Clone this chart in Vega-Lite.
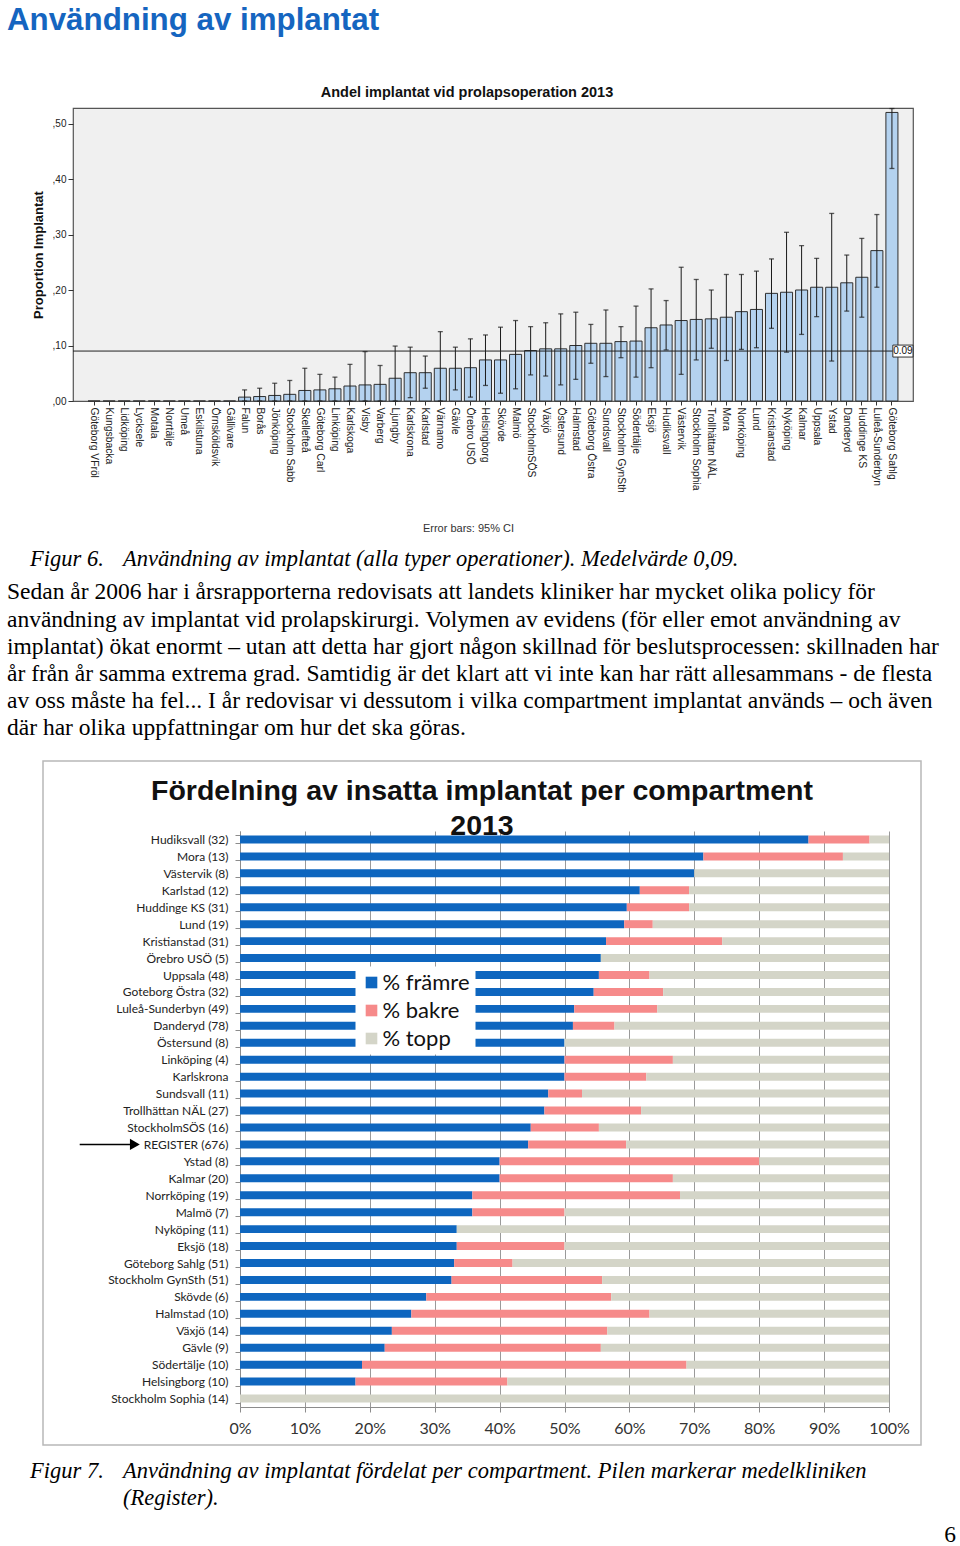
{
 "$schema": "https://vega.github.io/schema/vega-lite/v6.json",
 "background": "white",
 "padding": 0,
 "autosize": {"type": "pad"},
 "spacing": 0,
 "bounds": "flush",
 "config": {"view": {"stroke": null}, "font": "Liberation Sans"},
 "vconcat": [
  {"width": 960, "height": 4.5, "data": {"values": []}, "mark": "point",
   "title": {"text": "Användning av implantat", "orient": "bottom", "anchor": "start", "frame": "group", "offset": 0, "dx": 7, "baseline": "top", "font": "Liberation Sans", "fontSize": 31.3, "fontWeight": "bold", "color": "#1565c0"}},
  {"width": 960, "height": 102.5, "data": {"values": []}, "mark": "point"},
  {"hconcat": [
    {"width": 73, "height": 293, "data": {"values": []}, "mark": "point"},
    {
     "width": 840, "height": 293,
     "view": {"fill": "#f0f0f0", "stroke": "#555555", "strokeWidth": 1.2},
     "title": {"text": "Andel implantat vid prolapsoperation 2013", "anchor": "middle", "frame": "group", "dx": -26, "offset": -4, "baseline": "alphabetic", "font": "Liberation Sans", "fontSize": 14.5, "fontWeight": "bold", "color": "#111111"},
     "resolve": {"scale": {"x": "independent"}},
     "layer": [
      {
       "data": {"values": [
        {"c": "Göteborg VFröl", "p": 0, "lo": 0, "hi": 0},
        {"c": "Kungsbacka", "p": 0, "lo": 0, "hi": 0},
        {"c": "Lidköping", "p": 0, "lo": 0, "hi": 0},
        {"c": "Lycksele", "p": 0, "lo": 0, "hi": 0},
        {"c": "Motala", "p": 0, "lo": 0, "hi": 0},
        {"c": "Norrtälje", "p": 0, "lo": 0, "hi": 0},
        {"c": "Umeå", "p": 0, "lo": 0, "hi": 0},
        {"c": "Eskilstuna", "p": 0, "lo": 0, "hi": 0},
        {"c": "Örnsköldsvik", "p": 0, "lo": 0, "hi": 0},
        {"c": "Gällivare", "p": 0, "lo": 0, "hi": 0},
        {"c": "Falun", "p": 0.007, "lo": 0, "hi": 0.020},
        {"c": "Borås", "p": 0.008, "lo": 0, "hi": 0.023},
        {"c": "Jönköping", "p": 0.010, "lo": 0, "hi": 0.032},
        {"c": "Stockholm Sabb", "p": 0.012, "lo": 0, "hi": 0.037},
        {"c": "Skellefteå", "p": 0.019, "lo": 0, "hi": 0.059},
        {"c": "Göteborg Carl", "p": 0.020, "lo": 0, "hi": 0.048},
        {"c": "Linköping", "p": 0.022, "lo": 0, "hi": 0.043},
        {"c": "Karlskoga", "p": 0.027, "lo": 0, "hi": 0.066},
        {"c": "Visby", "p": 0.029, "lo": 0, "hi": 0.089},
        {"c": "Varberg", "p": 0.030, "lo": 0, "hi": 0.064},
        {"c": "Ljungby", "p": 0.041, "lo": 0, "hi": 0.099},
        {"c": "Karlskrona", "p": 0.051, "lo": 0.006, "hi": 0.097},
        {"c": "Karlstad", "p": 0.051, "lo": 0.023, "hi": 0.081},
        {"c": "Värnamo", "p": 0.059, "lo": 0, "hi": 0.125},
        {"c": "Gävle", "p": 0.059, "lo": 0.020, "hi": 0.097},
        {"c": "Örebro USÖ", "p": 0.060, "lo": 0.007, "hi": 0.112},
        {"c": "Helsingborg", "p": 0.074, "lo": 0.028, "hi": 0.119},
        {"c": "Skövde", "p": 0.074, "lo": 0.014, "hi": 0.133},
        {"c": "Malmö", "p": 0.084, "lo": 0.022, "hi": 0.145},
        {"c": "StockholmSÖS", "p": 0.091, "lo": 0.047, "hi": 0.134},
        {"c": "Växjö", "p": 0.094, "lo": 0.045, "hi": 0.141},
        {"c": "Östersund", "p": 0.094, "lo": 0.029, "hi": 0.157},
        {"c": "Halmstad", "p": 0.100, "lo": 0.039, "hi": 0.160},
        {"c": "Göteborg Östra", "p": 0.104, "lo": 0.068, "hi": 0.138},
        {"c": "Sundsvall", "p": 0.104, "lo": 0.044, "hi": 0.164},
        {"c": "Stockholm GynSth", "p": 0.107, "lo": 0.078, "hi": 0.134},
        {"c": "Södertälje", "p": 0.108, "lo": 0.043, "hi": 0.171},
        {"c": "Eksjö", "p": 0.132, "lo": 0.060, "hi": 0.202},
        {"c": "Hudiksvall", "p": 0.137, "lo": 0.092, "hi": 0.181},
        {"c": "Västervik", "p": 0.145, "lo": 0.048, "hi": 0.241},
        {"c": "Stockholm Sophia", "p": 0.147, "lo": 0.074, "hi": 0.219},
        {"c": "Trollhättan NÄL", "p": 0.148, "lo": 0.095, "hi": 0.200},
        {"c": "Mora", "p": 0.151, "lo": 0.073, "hi": 0.228},
        {"c": "Norrköping", "p": 0.161, "lo": 0.093, "hi": 0.228},
        {"c": "Lund", "p": 0.165, "lo": 0.096, "hi": 0.234},
        {"c": "Kristianstad", "p": 0.194, "lo": 0.131, "hi": 0.256},
        {"c": "Nyköping", "p": 0.196, "lo": 0.088, "hi": 0.304},
        {"c": "Kalmar", "p": 0.200, "lo": 0.120, "hi": 0.280},
        {"c": "Uppsala", "p": 0.205, "lo": 0.152, "hi": 0.257},
        {"c": "Ystad", "p": 0.205, "lo": 0.072, "hi": 0.338},
        {"c": "Danderyd", "p": 0.213, "lo": 0.162, "hi": 0.263},
        {"c": "Huddinge KS", "p": 0.223, "lo": 0.151, "hi": 0.293},
        {"c": "Luleå-Sunderbyn", "p": 0.271, "lo": 0.205, "hi": 0.336},
        {"c": "Göteborg Sahlg", "p": 0.520, "lo": 0.419, "hi": 0.527}
       ]},
       "layer": [
        {"mark": {"type": "bar", "fill": "#b4d2ef", "stroke": "#2e2e2e", "strokeWidth": 1},
         "encoding": {
          "x": {"field": "c", "type": "nominal", "sort": null, "scale": {"paddingInner": 0.2, "paddingOuter": 3},
                "axis": {"title": "Error bars: 95% CI", "titleX": 395, "titleY": 127, "titleAlign": "center", "titleBaseline": "middle", "titleFont": "Liberation Sans", "titleFontSize": 11, "titleFontWeight": "normal", "titleColor": "#333333", "labelAngle": 90, "labelFont": "Liberation Sans", "labelFontSize": 10.3, "labelColor": "#222222", "labelPadding": 2, "labelOverlap": false, "labelLimit": 200, "tickSize": 4, "tickColor": "#333333", "domain": false, "grid": false}},
          "y": {"field": "p", "type": "quantitative", "scale": {"domain": [0, 0.528], "nice": false},
                "axis": {"title": "Proportion Implantat", "titleFont": "Liberation Sans", "titleFontSize": 13, "titleFontWeight": "bold", "titleColor": "#111111", "titlePadding": 7, "values": [0, 0.1, 0.2, 0.3, 0.4, 0.5], "labelExpr": "',' + substring(format(datum.value, '.2f'), 2)", "labelFont": "Liberation Sans", "labelFontSize": 10, "labelColor": "#222222", "labelPadding": 2, "labelFlush": false, "tickSize": 5, "tickColor": "#333333", "domain": false, "grid": false}}
         }},
        {"transform": [{"filter": "datum.p > 0"}],
         "mark": {"type": "rule", "color": "#1a1a1a", "strokeWidth": 1},
         "encoding": {"x": {"field": "c", "type": "nominal", "sort": null}, "y": {"field": "lo", "type": "quantitative"}, "y2": {"field": "hi"}}},
        {"transform": [{"filter": "datum.p > 0"}],
         "mark": {"type": "tick", "color": "#1a1a1a", "size": 5, "thickness": 1.3},
         "encoding": {"x": {"field": "c", "type": "nominal", "sort": null}, "y": {"field": "hi", "type": "quantitative"}}},
        {"transform": [{"filter": "datum.p > 0"}],
         "mark": {"type": "tick", "color": "#1a1a1a", "size": 5, "thickness": 1.3},
         "encoding": {"x": {"field": "c", "type": "nominal", "sort": null}, "y": {"field": "lo", "type": "quantitative"}}}
       ]
      },
      {
       "data": {"values": [{"lab": "0.09"}]},
       "layer": [
        {"mark": {"type": "rule", "color": "#222222", "strokeWidth": 1},
         "encoding": {"x": {"datum": 0, "type": "quantitative", "scale": {"domain": [0, 1], "nice": false}, "axis": null}, "x2": {"datum": 0.976}, "y": {"datum": 0.09, "type": "quantitative"}}},
        {"mark": {"type": "rect", "fill": "white", "stroke": "#333333", "strokeWidth": 1},
         "encoding": {"x": {"datum": 0.976, "type": "quantitative", "axis": null}, "x2": {"datum": 1.0}, "y": {"datum": 0.0792, "type": "quantitative"}, "y2": {"datum": 0.1008}}},
        {"mark": {"type": "text", "fontSize": 10, "font": "Liberation Sans", "color": "#111111", "align": "center", "baseline": "middle"},
         "encoding": {"x": {"datum": 0.988, "type": "quantitative", "axis": null}, "y": {"datum": 0.09, "type": "quantitative"}, "text": {"field": "lab"}}}
       ]
      }
     ]
    }
   ], "spacing": 0, "bounds": "flush"},
  {"width": 960, "height": 293, "data": {"values": []}, "mark": "point"},
  {"hconcat": [
    {"width": 123, "height": 147.2, "data": {"values": []}, "mark": "point",
     "title": {"text": "Figur 6.", "orient": "bottom", "anchor": "start", "frame": "group", "offset": 0, "dx": 30, "baseline": "top", "font": "Liberation Serif", "fontSize": 22.5, "fontStyle": "italic", "fontWeight": "normal", "color": "#000000"}},
    {"width": 837, "height": 147.2, "data": {"values": []}, "mark": "point",
     "title": {"text": "Användning av implantat (alla typer operationer). Medelvärde 0,09.", "orient": "bottom", "anchor": "start", "frame": "group", "offset": 0, "dx": 0, "baseline": "top", "font": "Liberation Serif", "fontSize": 22.5, "fontStyle": "italic", "fontWeight": "normal", "color": "#000000"}}
   ], "spacing": 0, "bounds": "flush"},
  {"width": 960, "height": 179.4, "data": {"values": []}, "mark": "point",
   "title": {"text": [
     "Sedan år 2006 har i årsrapporterna redovisats att landets kliniker har mycket olika policy för",
     "användning av implantat vid prolapskirurgi. Volymen av evidens (för eller emot användning av",
     "implantat) ökat enormt – utan att detta har gjort någon skillnad för beslutsprocessen: skillnaden har",
     "år från år samma extrema grad. Samtidig är det klart att vi inte kan har rätt allesammans - de flesta",
     "av oss måste ha fel... I år redovisar vi dessutom i vilka compartment implantat används – och även",
     "där har olika uppfattningar om hur det ska göras."
    ], "orient": "bottom", "anchor": "start", "frame": "group", "offset": 0, "dx": 7, "baseline": "top", "lineHeight": 27.2, "font": "Liberation Serif", "fontSize": 23.5, "fontWeight": "normal", "color": "#000000"}},
  {"width": 960, "height": 179.6, "data": {"values": []}, "mark": "point"},
  {"hconcat": [
    {"width": 43, "height": 684, "data": {"values": []}, "mark": "point"},
    {"width": 878, "height": 684, "data": {"values": []}, "mark": "point", "view": {"stroke": "#b8b8b8", "strokeWidth": 1.5}}
   ], "spacing": 0, "bounds": "flush"},
  {"width": 960, "height": 70, "data": {"values": []}, "mark": "point"},
  {"hconcat": [
    {"width": 240, "height": 576, "data": {"values": []}, "mark": "point"},
    {
     "width": 649, "height": 576,
     "title": {"text": ["Fördelning av insatta implantat per compartment", "2013"], "anchor": "middle", "frame": "group", "dx": -82.5, "offset": -38, "baseline": "alphabetic", "lineHeight": 35, "font": "Liberation Sans", "fontSize": 28.5, "fontWeight": "bold", "color": "#111111"},
     "data": {"values": [
      {"c": "Hudiksvall (32)", "f": 87.6, "fb": 97.0},
      {"c": "Mora (13)", "f": 71.4, "fb": 92.9},
      {"c": "Västervik (8)", "f": 70.0, "fb": 70.0},
      {"c": "Karlstad (12)", "f": 61.6, "fb": 69.2},
      {"c": "Huddinge KS (31)", "f": 59.6, "fb": 69.2},
      {"c": "Lund (19)", "f": 59.2, "fb": 63.6},
      {"c": "Kristianstad (31)", "f": 56.4, "fb": 74.3},
      {"c": "Örebro USÖ (5)", "f": 55.6, "fb": 55.6},
      {"c": "Uppsala (48)", "f": 55.3, "fb": 63.1},
      {"c": "Goteborg Östra (32)", "f": 54.5, "fb": 65.2},
      {"c": "Luleå-Sunderbyn (49)", "f": 51.5, "fb": 64.3},
      {"c": "Danderyd (78)", "f": 51.3, "fb": 57.7},
      {"c": "Östersund (8)", "f": 50.0, "fb": 50.0},
      {"c": "Linköping (4)", "f": 50.0, "fb": 66.7},
      {"c": "Karlskrona", "f": 50.0, "fb": 62.6},
      {"c": "Sundsvall (11)", "f": 47.5, "fb": 52.7},
      {"c": "Trollhättan NÄL (27)", "f": 46.9, "fb": 61.8},
      {"c": "StockholmSÖS (16)", "f": 44.8, "fb": 55.3},
      {"c": "REGISTER (676)", "f": 44.4, "fb": 59.5},
      {"c": "Ystad (8)", "f": 40.0, "fb": 80.0},
      {"c": "Kalmar (20)", "f": 40.0, "fb": 66.7},
      {"c": "Norrköping (19)", "f": 35.8, "fb": 67.8},
      {"c": "Malmö (7)", "f": 35.8, "fb": 50.0},
      {"c": "Nyköping (11)", "f": 33.4, "fb": 33.4},
      {"c": "Eksjö (18)", "f": 33.4, "fb": 50.0},
      {"c": "Göteborg Sahlg (51)", "f": 33.0, "fb": 42.0},
      {"c": "Stockholm GynSth (51)", "f": 32.6, "fb": 55.8},
      {"c": "Skövde (6)", "f": 28.7, "fb": 57.2},
      {"c": "Halmstad (10)", "f": 26.4, "fb": 63.1},
      {"c": "Växjö (14)", "f": 23.4, "fb": 56.6},
      {"c": "Gävle (9)", "f": 22.3, "fb": 55.6},
      {"c": "Södertälje (10)", "f": 18.8, "fb": 68.8},
      {"c": "Helsingborg (10)", "f": 17.8, "fb": 41.2},
      {"c": "Stockholm Sophia (14)", "f": 0, "fb": 0}
     ]},
     "encoding": {
      "y": {"field": "c", "type": "nominal", "sort": null, "scale": {"paddingInner": 0.53, "paddingOuter": 0.265},
            "axis": {"title": null, "labelFont": "Lato", "labelFontSize": 12, "labelColor": "#222222", "labelPadding": 7, "labelLimit": 0, "tickBand": "extent", "tickSize": 5, "tickColor": "#8c8c8c", "domainColor": "#8c8c8c", "grid": false}}
     },
     "layer": [
      {"mark": {"type": "bar"},
       "encoding": {
        "x": {"field": "f", "type": "quantitative", "scale": {"domain": [0, 100], "nice": false},
              "axis": {"title": null, "values": [0, 10, 20, 30, 40, 50, 60, 70, 80, 90, 100], "labelExpr": "datum.value + '%'", "labelFont": "Lato", "labelFontSize": 16, "labelColor": "#333333", "labelPadding": 8, "labelFlush": false, "grid": true, "gridColor": "#9a9a9a", "tickSize": 5, "tickColor": "#8c8c8c", "domainColor": "#8c8c8c"}},
        "color": {"datum": "% främre", "scale": {"domain": ["% främre", "% bakre", "% topp"], "range": ["#0e66bf", "#f68a8a", "#d4d5c8"]},
                  "legend": {"title": null, "orient": "none", "legendX": 355.5, "legendY": 966.5, "direction": "vertical", "fillColor": "white", "padding": 5, "symbolType": "square", "symbolSize": 135, "symbolStrokeWidth": 0, "labelFont": "Lato", "labelFontSize": 22, "labelColor": "#111111", "rowPadding": 6, "labelOffset": 0}}
       }},
      {"mark": {"type": "bar"},
       "encoding": {"x": {"field": "f", "type": "quantitative"}, "x2": {"field": "fb"}, "color": {"datum": "% bakre"}}},
      {"mark": {"type": "bar"},
       "encoding": {"x": {"field": "fb", "type": "quantitative"}, "x2": {"datum": 100}, "color": {"datum": "% topp"}}},
      {"transform": [{"filter": "datum.c == 'REGISTER (676)'"}],
       "mark": {"type": "rule", "color": "black", "strokeWidth": 1.5},
       "encoding": {"x": {"datum": -24.7}, "x2": {"datum": -16.5}}},
      {"transform": [{"filter": "datum.c == 'REGISTER (676)'"}],
       "mark": {"type": "point", "shape": "triangle-right", "filled": true, "color": "black", "size": 130, "opacity": 1},
       "encoding": {"x": {"datum": -16.2}}}
     ]
    }
   ], "spacing": 0, "bounds": "flush"},
  {"width": 960, "height": 577, "data": {"values": []}, "mark": "point"},
  {"hconcat": [
    {"width": 123, "height": 52.2, "data": {"values": []}, "mark": "point",
     "title": {"text": "Figur 7.", "orient": "bottom", "anchor": "start", "frame": "group", "offset": 0, "dx": 30, "baseline": "top", "font": "Liberation Serif", "fontSize": 22.5, "fontStyle": "italic", "fontWeight": "normal", "color": "#000000"}},
    {"width": 837, "height": 52.2, "data": {"values": []}, "mark": "point",
     "title": {"text": ["Användning av implantat fördelat per compartment. Pilen markerar medelkliniken", "(Register)."], "orient": "bottom", "anchor": "start", "frame": "group", "offset": 0, "dx": 0, "baseline": "top", "lineHeight": 27, "font": "Liberation Serif", "fontSize": 22.5, "fontStyle": "italic", "fontWeight": "normal", "color": "#000000"}}
   ], "spacing": 0, "bounds": "flush"},
  {"width": 960, "height": 115.4, "data": {"values": []}, "mark": "point",
   "title": {"text": "6", "orient": "bottom", "anchor": "end", "frame": "group", "offset": 0, "dx": -4, "baseline": "top", "font": "Liberation Serif", "fontSize": 23.5, "fontWeight": "normal", "color": "#000000"}}
 ]
}
